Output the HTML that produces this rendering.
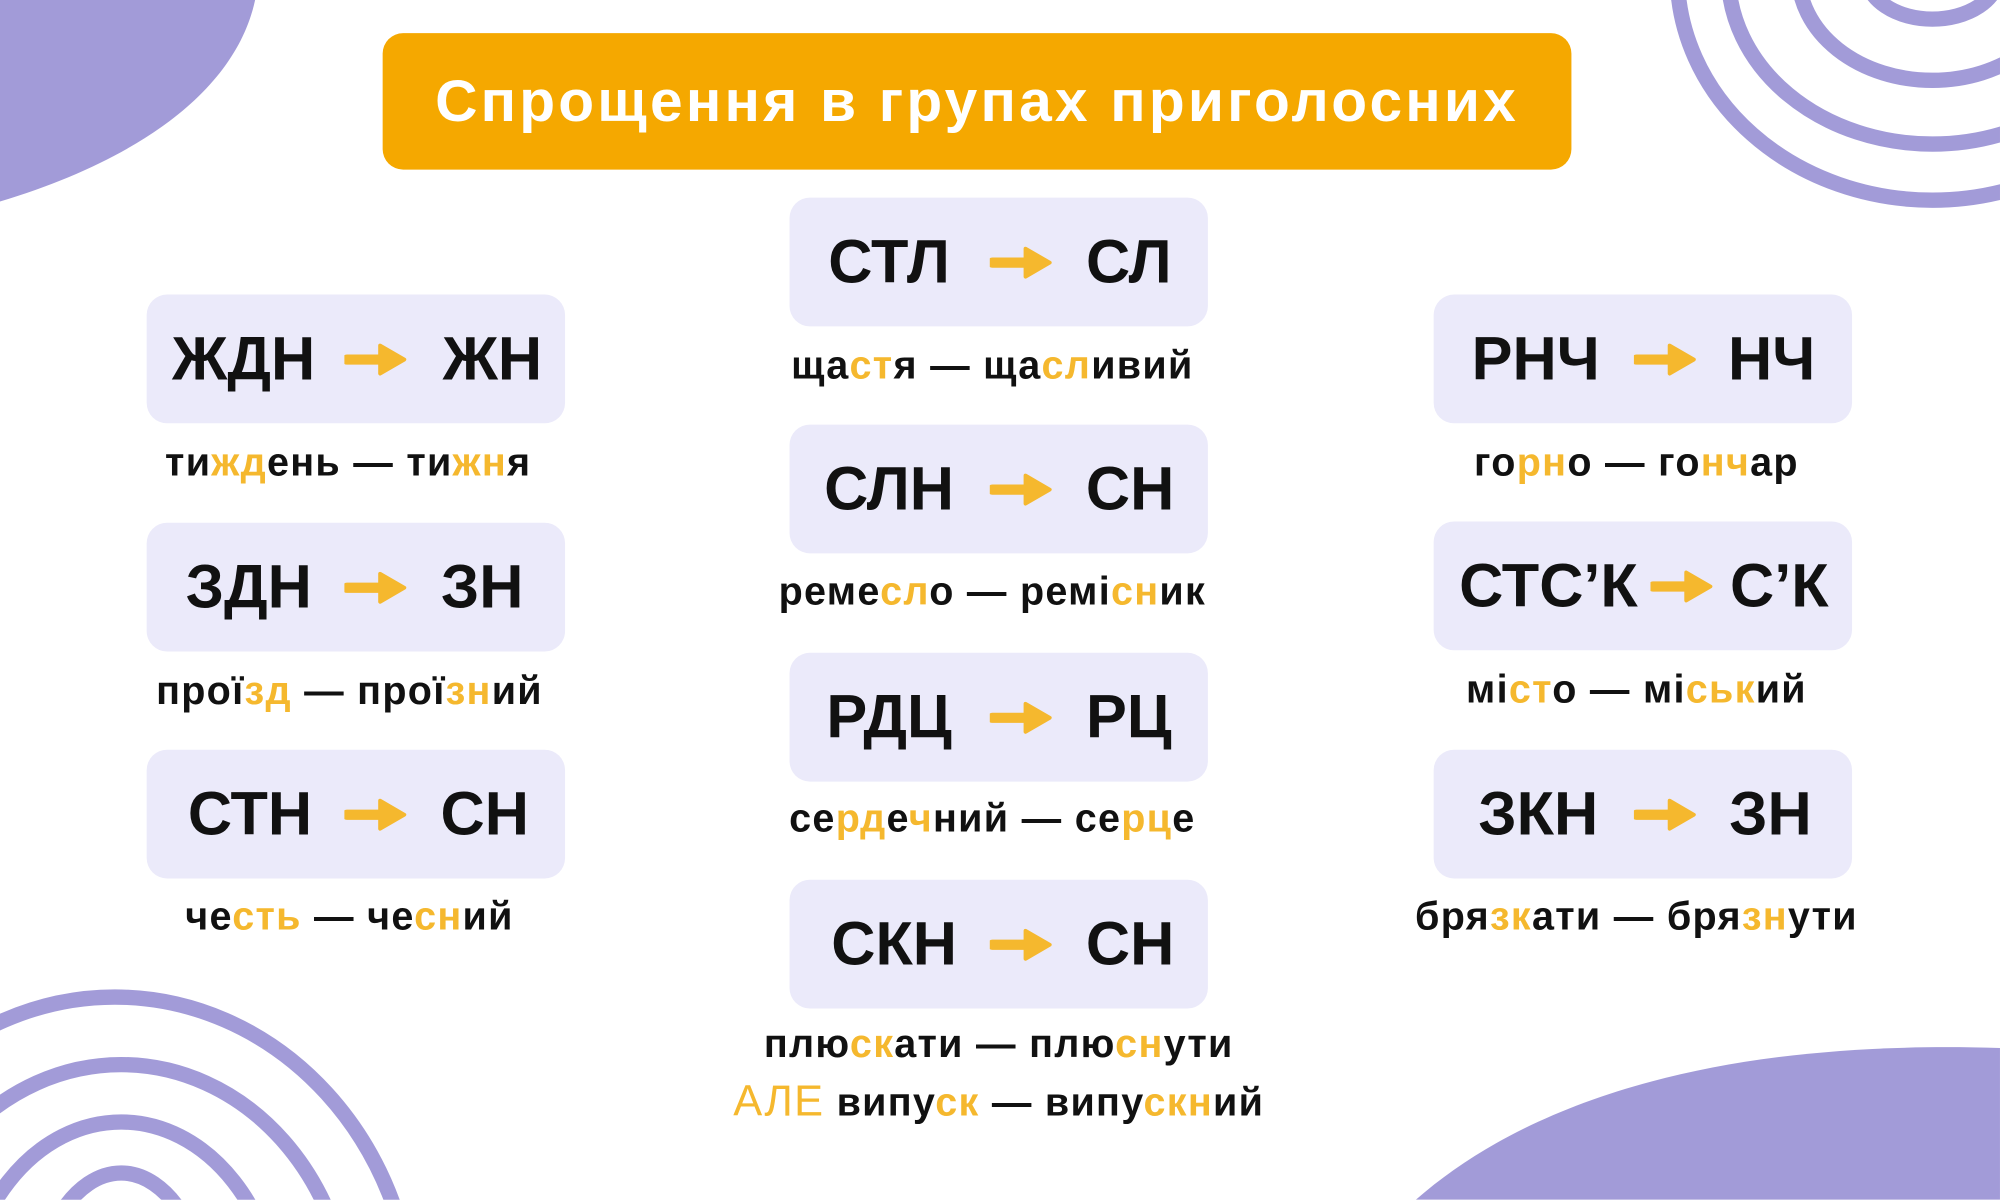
<!DOCTYPE html>
<html><head><meta charset="utf-8"><style>
html,body{margin:0;padding:0;background:#fff;overflow:hidden;}
body{width:2000px;height:1200px;overflow:hidden;position:relative;}
#s{position:absolute;left:0;top:0;width:1568px;height:941px;overflow:hidden;transform:scale(1.2755,1.2750);transform-origin:0 0;font-family:"Liberation Sans","DejaVu Sans",sans-serif;}
.box{position:absolute;width:328px;height:101px;background:#ebeafa;border-radius:16px;font-size:48px;font-weight:bold;color:#111;}
.box .a{position:absolute;top:50%;transform:translate(-50%,-50%);white-space:nowrap;}
.box svg{position:absolute;top:38px;}
.lab{position:absolute;font-size:31px;letter-spacing:1px;font-weight:bold;color:#111;text-align:center;white-space:nowrap;transform:translateX(-50%);}
.o{color:#f5b82e;}
</style></head><body><div id="s">
<svg width="1568" height="941" style="position:absolute;left:0;top:0">
<path d="M0,0 L200,0 C185,70 110,125 0,158 Z" fill="#a29bd8"/>
<path d="M1110,941 C1200,862 1350,815 1568,822 L1568,941 Z" fill="#a29bd8"/>
<g fill="none" stroke="#a29bd8" stroke-width="12">
<ellipse cx="1515" cy="-20" rx="200" ry="177"/>
<ellipse cx="1515" cy="-20" rx="160" ry="133"/>
<ellipse cx="1515" cy="-20" rx="105" ry="83"/>
<ellipse cx="1515" cy="-20" rx="52" ry="35"/>
<ellipse cx="90" cy="1040" rx="235" ry="258"/>
<ellipse cx="95" cy="1040" rx="180" ry="205"/>
<ellipse cx="95" cy="1040" rx="125" ry="160"/>
<ellipse cx="95" cy="1040" rx="70" ry="120"/>
</g>
</svg>
<div style="position:absolute;left:300px;top:26px;width:932px;height:107px;background:#f5a800;border-radius:16px;color:#fff;font-size:46px;font-weight:bold;text-align:center;line-height:107px;letter-spacing:2.5px">Спрощення в групах приголосних</div>

<div class="box" style="left:115px;top:231px"><span class="a" style="left:76px">ЖДН</span><svg style="left:155px" width="50" height="26"><path d="M2,13 H34" stroke="#f5b82e" stroke-width="8" stroke-linecap="round"/><path d="M28,2 L47,13 L28,24 Z" fill="#f5b82e" stroke="#f5b82e" stroke-width="3" stroke-linejoin="round"/></svg><span class="a" style="left:271px">ЖН</span></div>
<div class="box" style="left:115px;top:410px"><span class="a" style="left:80px">ЗДН</span><svg style="left:155px" width="50" height="26"><path d="M2,13 H34" stroke="#f5b82e" stroke-width="8" stroke-linecap="round"/><path d="M28,2 L47,13 L28,24 Z" fill="#f5b82e" stroke="#f5b82e" stroke-width="3" stroke-linejoin="round"/></svg><span class="a" style="left:263px">ЗН</span></div>
<div class="box" style="left:115px;top:588px"><span class="a" style="left:81px">СТН</span><svg style="left:155px" width="50" height="26"><path d="M2,13 H34" stroke="#f5b82e" stroke-width="8" stroke-linecap="round"/><path d="M28,2 L47,13 L28,24 Z" fill="#f5b82e" stroke="#f5b82e" stroke-width="3" stroke-linejoin="round"/></svg><span class="a" style="left:265px">СН</span></div>
<div class="lab" style="left:273px;top:345px">ти<span class="o">жд</span>ень — ти<span class="o">жн</span>я</div>
<div class="lab" style="left:274px;top:524px">прої<span class="o">зд</span> — прої<span class="o">зн</span>ий</div>
<div class="lab" style="left:274px;top:701px">че<span class="o">сть</span> — че<span class="o">сн</span>ий</div>

<div class="box" style="left:619px;top:155px"><span class="a" style="left:78px">СТЛ</span><svg style="left:157px" width="50" height="26"><path d="M2,13 H34" stroke="#f5b82e" stroke-width="8" stroke-linecap="round"/><path d="M28,2 L47,13 L28,24 Z" fill="#f5b82e" stroke="#f5b82e" stroke-width="3" stroke-linejoin="round"/></svg><span class="a" style="left:266px">СЛ</span></div>
<div class="box" style="left:619px;top:333px"><span class="a" style="left:78px">СЛН</span><svg style="left:157px" width="50" height="26"><path d="M2,13 H34" stroke="#f5b82e" stroke-width="8" stroke-linecap="round"/><path d="M28,2 L47,13 L28,24 Z" fill="#f5b82e" stroke="#f5b82e" stroke-width="3" stroke-linejoin="round"/></svg><span class="a" style="left:267px">СН</span></div>
<div class="box" style="left:619px;top:512px"><span class="a" style="left:78px">РДЦ</span><svg style="left:157px" width="50" height="26"><path d="M2,13 H34" stroke="#f5b82e" stroke-width="8" stroke-linecap="round"/><path d="M28,2 L47,13 L28,24 Z" fill="#f5b82e" stroke="#f5b82e" stroke-width="3" stroke-linejoin="round"/></svg><span class="a" style="left:266px">РЦ</span></div>
<div class="box" style="left:619px;top:690px"><span class="a" style="left:82px">СКН</span><svg style="left:157px" width="50" height="26"><path d="M2,13 H34" stroke="#f5b82e" stroke-width="8" stroke-linecap="round"/><path d="M28,2 L47,13 L28,24 Z" fill="#f5b82e" stroke="#f5b82e" stroke-width="3" stroke-linejoin="round"/></svg><span class="a" style="left:267px">СН</span></div>
<div class="lab" style="left:778px;top:269px">ща<span class="o">ст</span>я — ща<span class="o">сл</span>ивий</div>
<div class="lab" style="left:778px;top:446px">реме<span class="o">сл</span>о — ремі<span class="o">сн</span>ик</div>
<div class="lab" style="left:778px;top:624px">се<span class="o">рд</span>е<span class="o">ч</span>ний — се<span class="o">рц</span>е</div>
<div class="lab" style="left:783px;top:801px">плю<span class="o">ск</span>ати — плю<span class="o">сн</span>ути</div>
<div class="lab" style="left:783px;top:845px"><span class="o" style="font-size:34px;font-weight:normal">АЛЕ</span> випу<span class="o">ск</span> — випу<span class="o">скн</span>ий</div>

<div class="box" style="left:1124px;top:231px"><span class="a" style="left:80px">РНЧ</span><svg style="left:157px" width="50" height="26"><path d="M2,13 H34" stroke="#f5b82e" stroke-width="8" stroke-linecap="round"/><path d="M28,2 L47,13 L28,24 Z" fill="#f5b82e" stroke="#f5b82e" stroke-width="3" stroke-linejoin="round"/></svg><span class="a" style="left:265px">НЧ</span></div>
<div class="box" style="left:1124px;top:409px"><span class="a" style="left:90px">СТС’К</span><svg style="left:170px" width="50" height="26"><path d="M2,13 H34" stroke="#f5b82e" stroke-width="8" stroke-linecap="round"/><path d="M28,2 L47,13 L28,24 Z" fill="#f5b82e" stroke="#f5b82e" stroke-width="3" stroke-linejoin="round"/></svg><span class="a" style="left:271px">С’К</span></div>
<div class="box" style="left:1124px;top:588px"><span class="a" style="left:82px">ЗКН</span><svg style="left:157px" width="50" height="26"><path d="M2,13 H34" stroke="#f5b82e" stroke-width="8" stroke-linecap="round"/><path d="M28,2 L47,13 L28,24 Z" fill="#f5b82e" stroke="#f5b82e" stroke-width="3" stroke-linejoin="round"/></svg><span class="a" style="left:264px">ЗН</span></div>
<div class="lab" style="left:1283px;top:345px">го<span class="o">рн</span>о — го<span class="o">нч</span>ар</div>
<div class="lab" style="left:1283px;top:523px">мі<span class="o">ст</span>о — мі<span class="o">ськ</span>ий</div>
<div class="lab" style="left:1283px;top:701px">бря<span class="o">зк</span>ати — бря<span class="o">зн</span>ути</div>
</div></body></html>
